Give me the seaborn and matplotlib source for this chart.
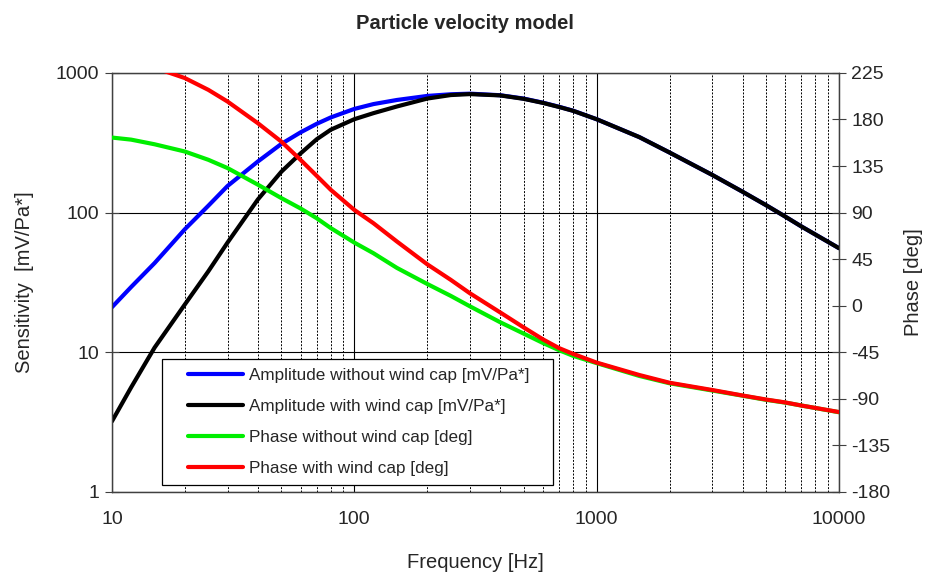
import numpy as np
import pandas as pd
import matplotlib
matplotlib.use("Agg")
import matplotlib.pyplot as plt
import seaborn as sns
from matplotlib.ticker import LogLocator, FixedLocator, NullFormatter, FixedFormatter
from matplotlib.legend_handler import HandlerLine2D

# frequencies the curves were read at [Hz]
freq = [10, 12, 15, 20, 25, 30, 40, 50, 60, 70, 80, 100, 120, 150, 200, 250, 300,
        400, 500, 600, 700, 800, 1000, 1500, 2000, 3000, 4000, 5000, 6000, 7000, 10000]

# sensitivity [mV/Pa*]
amp_no_cap = [21, 29.3, 43.5, 76, 112, 155, 232, 310, 375, 432, 480, 552, 598, 640, 684,
              703, 710, 692, 655, 612, 572, 536, 466, 347, 269, 186, 141, 113, 93.6, 79.5, 55.6]
amp_cap = [3.2, 5.6, 10.8, 22, 38, 61, 124, 196, 265, 335, 392, 466, 515, 575, 655,
           694, 705, 690, 652, 610, 570, 535, 466, 347, 269, 186, 141, 113, 93.6, 79.5, 55.6]

# phase [deg]
phase_no_cap = [162.5, 160.5, 156, 149, 141, 133, 117, 104, 94, 84.5, 75, 61, 50.7, 36.5, 21,
                9.5, -0.6, -16, -27, -36, -43, -48.5, -55.5, -67.9, -75, -82, -87, -91,
                -93.7, -96.5, -103]
phase_cap = [236, 233.5, 230, 220, 208.6, 197.3, 176.4, 158.6, 141, 125.5, 112, 92.6, 79.7,
             62, 40, 25, 12, -6.5, -21, -32.5, -41, -46.6, -55, -67, -74.5, -81.5, -86.8,
             -90.7, -93.5, -96.5, -102.8]

labels = ["Amplitude without wind cap [mV/Pa*]",
          "Amplitude with wind cap [mV/Pa*]",
          "Phase without wind cap [deg]",
          "Phase with wind cap [deg]"]

sns.set_style("white")
plt.rcParams['font.family'] = ['Liberation Sans', 'DejaVu Sans']
plt.rcParams['axes.unicode_minus'] = False

df_amp = pd.DataFrame({"freq": freq * 2,
                       "value": amp_no_cap + amp_cap,
                       "series": [labels[0]] * len(freq) + [labels[1]] * len(freq)})
df_ph = pd.DataFrame({"freq": freq * 2,
                      "value": phase_no_cap + phase_cap,
                      "series": [labels[2]] * len(freq) + [labels[3]] * len(freq)})

fig = plt.figure(figsize=(9.25, 5.74), dpi=100)
ax = fig.add_axes([0.121, 0.143, 0.786, 0.730])
ax2 = ax.twinx()

txt = '#262626'

sns.lineplot(data=df_amp, x="freq", y="value", hue="series",
             palette={labels[0]: '#0000ff', labels[1]: '#000000'},
             linewidth=3, ax=ax, legend=False, zorder=3)
sns.lineplot(data=df_ph, x="freq", y="value", hue="series",
             palette={labels[2]: '#00ee00', labels[3]: '#ff0000'},
             linewidth=3, ax=ax2, legend=False, zorder=3)
for ln in ax.get_lines() + ax2.get_lines():
    ln.set_solid_joinstyle('round')

ax.set_xscale('log')
ax.set_yscale('log')
ax.set_xlim(10, 10000)
ax.set_ylim(1, 1000)
ax2.set_ylim(-180, 225)

# grid: decades solid, in-between dashed
ax.xaxis.set_major_locator(FixedLocator([10, 100, 1000, 10000]))
ax.xaxis.set_major_formatter(FixedFormatter(['10', '100', '1000', '10000']))
ax.xaxis.set_minor_locator(LogLocator(base=10, subs=np.arange(2, 10)))
ax.xaxis.set_minor_formatter(NullFormatter())
ax.yaxis.set_major_locator(FixedLocator([1, 10, 100, 1000]))
ax.yaxis.set_major_formatter(FixedFormatter(['1', '10', '100', '1000']))
ax.yaxis.set_minor_locator(FixedLocator([]))
ax.grid(True, which='major', color='#000000', linewidth=0.8)
ax.grid(True, which='minor', axis='x', color='#000000', linewidth=0.7, linestyle=(0, (2, 1.5)))
ax.set_axisbelow(True)

ax2.set_yticks(np.arange(-180, 226, 45))
ax2.grid(False)

ax.tick_params(axis='y', which='major', direction='inout', length=10, width=0.8,
               labelsize=14, labelcolor=txt, color='#404040', pad=4)
ax.tick_params(axis='x', which='major', direction='out', length=6, width=0.8,
               labelsize=14, labelcolor=txt, color='#404040', pad=8)
ax.tick_params(axis='x', which='minor', length=0)
ax2.tick_params(axis='y', direction='inout', length=10, width=0.8,
                labelsize=14, labelcolor=txt, color='#404040', pad=4)

for a in (ax, ax2):
    for s in a.spines.values():
        s.set_color('#404040')
        s.set_linewidth(0.9)

ax.set_xlabel("Frequency [Hz]", fontsize=14.5, color=txt, labelpad=18)
ax.set_ylabel("Sensitivity  [mV/Pa*]", fontsize=14.5, color=txt, labelpad=16)
ax2.set_ylabel("Phase [deg]", fontsize=14.5, color=txt, labelpad=10)
fig.suptitle("Particle velocity model", fontsize=14.5, fontweight='bold', y=0.976, x=0.503)

handles = ax.get_lines()[:2] + ax2.get_lines()[:2]
leg = ax2.legend(handles, labels, loc='lower left', mode='expand',
                 bbox_to_anchor=(0.069, 0.017, 0.538, 0.3),
                 fontsize=12.3, frameon=True, fancybox=False, edgecolor='#000000',
                 framealpha=1, handlelength=4.25, labelspacing=0.95, borderpad=0.5,
                 handletextpad=0.35, borderaxespad=0,
                 handler_map={h: HandlerLine2D(xpad=1.0) for h in handles})
leg.get_frame().set_linewidth(0.9)
for t in leg.get_texts():
    t.set_color(txt)
for h in leg.get_lines():
    h.set_solid_capstyle('round')

fig.savefig("out.png", dpi=100)
